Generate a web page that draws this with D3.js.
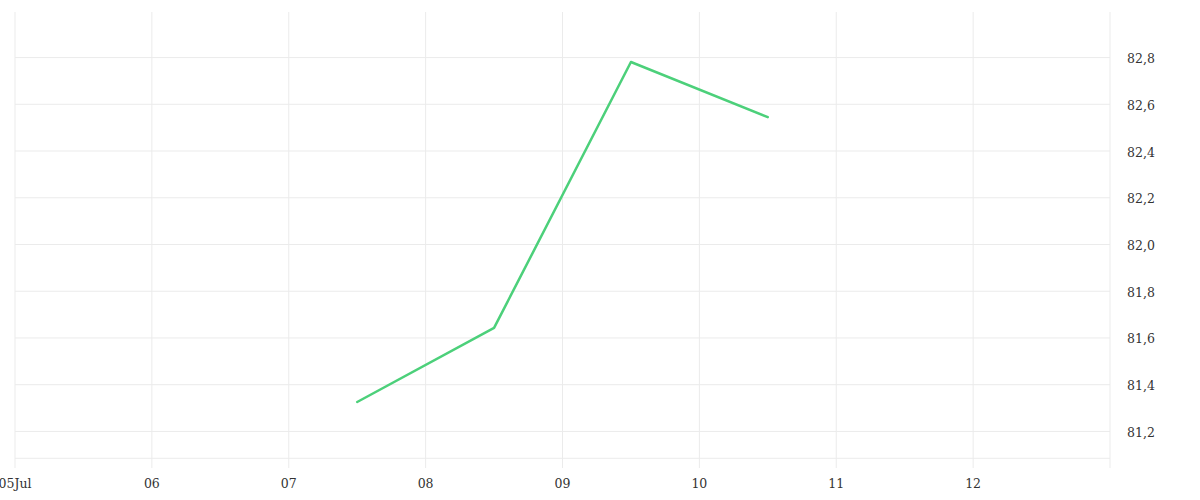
<!DOCTYPE html>
<html><head><meta charset="utf-8">
<script src="https://cdn.jsdelivr.net/npm/d3@7"></script>
<style>
body{margin:0;background:#fff;}
text{font-family:"DejaVu Serif","Liberation Serif",serif;}
</style></head>
<body><svg id="c" width="1200" height="500"></svg>
<script>
const dates = ["2024-07-07T12:00","2024-07-08T12:00","2024-07-09T12:00","2024-07-10T12:00"];
const values = [81.326, 81.643, 82.781, 82.545];
const yTicks = [81.2, 81.4, 81.6, 81.8, 82.0, 82.2, 82.4, 82.6, 82.8];
const xTickLabels = ["05Jul","06","07","08","09","10","11","12"];

const parse = d3.timeParse("%Y-%m-%dT%H:%M");
const data = dates.map((d,i)=>({t:parse(d), v:values[i]}));
const svg = d3.select("#c");
const L=15, R=1110, T=12, B=458.3;
const x = d3.scaleTime().domain([new Date(2024,6,5), new Date(2024,6,13)]).range([L,R]);
const y = d3.scaleLinear().domain([81.085, 82.995]).range([B,T]);
const xTicks = d3.range(8).map(i=>new Date(2024,6,5+i));
const grid = "#ebebeb";

// horizontal grid
svg.append("g").selectAll("line").data(yTicks).join("line")
  .attr("x1",L).attr("x2",R).attr("y1",d=>y(d)).attr("y2",d=>y(d))
  .attr("stroke",grid).attr("stroke-width",1);
// bottom line
svg.append("line").attr("x1",L).attr("x2",R).attr("y1",B).attr("y2",B).attr("stroke",grid);
// vertical grid
svg.append("g").selectAll("line").data(xTicks).join("line")
  .attr("x1",d=>x(d)).attr("x2",d=>x(d)).attr("y1",T).attr("y2",468)
  .attr("stroke",grid);
svg.append("line").attr("x1",R).attr("x2",R).attr("y1",T).attr("y2",468).attr("stroke",grid);

// x labels
svg.append("g").selectAll("text").data(xTicks).join("text")
  .attr("x",d=>x(d)).attr("y",488).attr("text-anchor","middle")
  .attr("font-size",12.5).attr("fill","#333")
  .text((d,i)=>xTickLabels[i]);
// y labels
const fmt = d3.formatLocale({decimal:",",thousands:".",grouping:[3],currency:["",""]}).format(".1f");
svg.append("g").selectAll("text").data(yTicks).join("text")
  .attr("x",1127).attr("y",d=>y(d)+2).attr("dominant-baseline","middle")
  .attr("font-size",12.5).attr("fill","#333")
  .text(d=>fmt(d));

// line
svg.append("path").datum(data)
  .attr("d", d3.line().x(d=>x(d.t)).y(d=>y(d.v)))
  .attr("fill","none").attr("stroke","#4cd07a").attr("stroke-width",2.5)
  .attr("stroke-linejoin","round").attr("stroke-linecap","round");
</script></body></html>
